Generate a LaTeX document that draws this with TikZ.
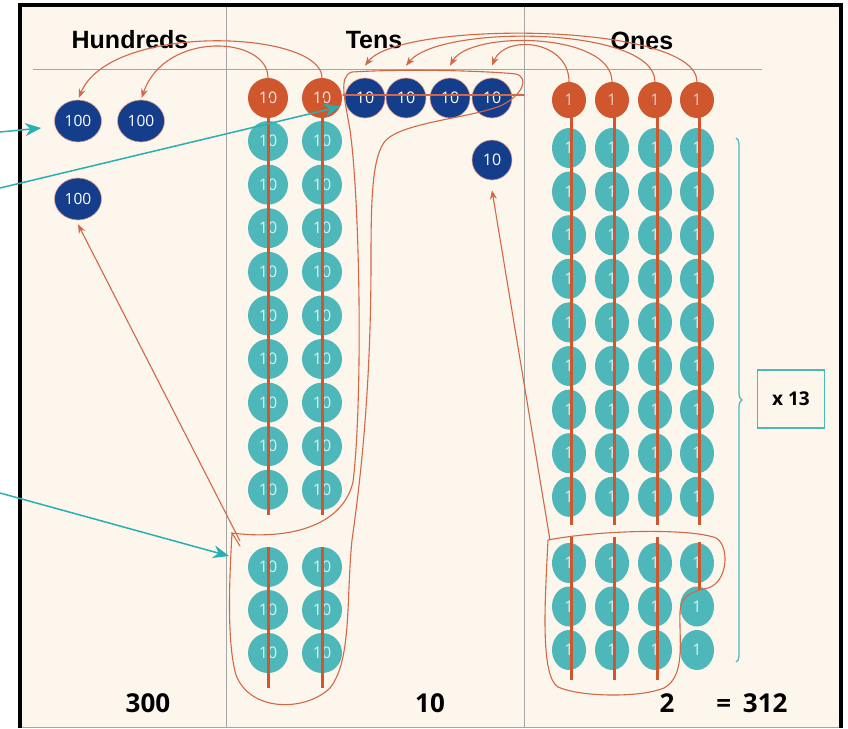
\documentclass[tikz,border=0pt]{standalone}
\usepackage{fontspec}
\setmainfont{Open Sans}
\newfontfamily\headfont{Liberation Sans}
\usetikzlibrary{positioning, shapes, arrows.meta, decorations.pathreplacing}

\definecolor{cream}{RGB}{252,246,237}
\definecolor{navy}{RGB}{20,62,140}
\definecolor{rust}{RGB}{208,86,46}
\definecolor{looprust}{RGB}{210,104,70}
\definecolor{tealdisc}{RGB}{78,183,185}
\definecolor{tealarrow}{RGB}{40,176,176}
\definecolor{rule}{RGB}{165,165,165}

\begin{document}
\begin{tikzpicture}[x=1pt, y=-1pt]
	\tikzstyle{hundred} = [ellipse, fill=navy, draw=rust!55, line width=0.6pt, minimum width=47pt, minimum height=42pt, inner sep=0pt, text=white, font=\fontsize{15.5}{15.5}\selectfont]
	\tikzstyle{bluetens} = [circle, fill=navy, draw=rust!55, line width=0.6pt, minimum size=40pt, inner sep=0pt, text=white, font=\fontsize{16}{16}\selectfont]
	\tikzstyle{redten} = [circle, fill=rust, minimum size=40pt, inner sep=0pt, text=white!85!rust, font=\fontsize{16}{16}\selectfont]
	\tikzstyle{ten} = [circle, fill=tealdisc, minimum size=40pt, inner sep=0pt, text=white!80!tealdisc, font=\fontsize{16}{16}\selectfont]
	\tikzstyle{redone} = [ellipse, fill=rust, minimum width=34pt, minimum height=36pt, inner sep=0pt, text=white!70!rust, font=\fontsize{16}{16}\selectfont]
	\tikzstyle{one} = [ellipse, fill=tealdisc, minimum width=34pt, minimum height=40pt, inner sep=0pt, text=white!80!tealdisc, font=\fontsize{16}{16}\selectfont]
	\tikzstyle{strike} = [rust, line width=3pt]
	\tikzstyle{loop} = [looprust, line width=1.1pt, line cap=round]
	\tikzstyle{swap} = [looprust, line width=1.1pt, ->, >={Stealth[length=9pt, width=7pt]}]
	\tikzstyle{pointer} = [tealarrow, line width=1.5pt, ->, >={Stealth[length=16pt, width=13pt]}]
	\tikzstyle{colhead} = [font=\headfont\bfseries\fontsize{25}{25}\selectfont]
	\tikzstyle{total} = [font=\bfseries\fontsize{26}{26}\selectfont]
	\tikzstyle{timesbox} = [rectangle, draw=tealdisc, line width=1.2pt, fill=cream, minimum width=67pt, minimum height=58pt, font=\bfseries\fontsize{19}{19}\selectfont]

	\useasboundingbox (0,0) rectangle (848,728);
	\fill [cream] (20,5) rectangle (841,728);
	\draw [rule, line width=1pt] (226,5) -- (226,728);
	\draw [rule, line width=1pt] (524,5) -- (524,728);
	\draw [rule, line width=1pt] (33,69) -- (762,69);
	\draw [rule, line width=1pt] (20,727) -- (841,727);
	\draw [black, line width=3.5pt] (20,728) -- (20,5) -- (841,5) -- (841,728);

	\node [colhead] (hundhead) at (130,40) {Hundreds};
	\node [colhead] (tenhead) at (374,40) {Tens};
	\node [colhead] (onehead) at (642,41) {Ones};

	% hundreds
	\node [hundred] (hund1) at (78,121) {100};
	\node [hundred] (hund2) at (141,121) {100};
	\node [hundred] (hund3) at (78,199) {100};

	% tens
	\node [redten] (oten1) at (268,98) {10};
	\node [redten] (oten2) at (322,98) {10};
	\foreach \x [count=\i] in {365,406,450,492}
		\node [bluetens] (bten\i) at (\x,98) {10};
	\node [bluetens] (bten5) at (492,160) {10};
	\foreach \r in {0,...,8} {
		\node [ten] (ta\r) at (268,141+43.6*\r) {10};
		\node [ten] (tb\r) at (322,141+43.6*\r) {10};
	}
	\foreach \r in {0,1,2} {
		\node [ten] (ba\r) at (268,567+43*\r) {10};
		\node [ten] (bb\r) at (322,567+43*\r) {10};
	}

	% ones
	\foreach \x [count=\c] in {569,612,655,697} {
		\node [redone] (one\c) at (\x,100) {1};
		\foreach \r in {0,...,8}
			\node [one] (u\c-\r) at (\x,148+43.6*\r) {1};
		\foreach \r in {0,1,2}
			\node [one] (v\c-\r) at (\x,563+43.5*\r) {1};
	}

	% crossing out
	\draw [strike] (oten1.center) -- ([yshift=-25pt]ta8.center);
	\draw [strike] (oten2.center) -- ([yshift=-25pt]tb8.center);
	\draw [strike] ([yshift=20pt]ba0.center) -- ([yshift=-35pt]ba2.center);
	\draw [strike] ([yshift=20pt]bb0.center) -- ([yshift=-35pt]bb2.center);
	\foreach \c in {1,2,3,4}
		\draw [strike] ([xshift=2pt]one\c.center) -- ([xshift=2pt, yshift=-28pt]u\c-8.center);
	\foreach \c in {1,2,3}
		\draw [strike] ([xshift=2pt, yshift=26pt]v\c-0.center) -- ([xshift=2pt, yshift=-30pt]v\c-2.center);
	\draw [strike] ([xshift=2pt, yshift=21pt]v4-0.center) -- ([xshift=2pt, yshift=-27pt]v4-0.center);
	\draw [loop] ([xshift=-22pt, yshift=3pt]bten1.center) -- ([xshift=32pt, yshift=3pt]bten4.center);

	% rings round the groups
	\draw [loop] (240,546) -- (232,533) .. controls (285,540) and (342,528) .. (353,482)
		.. controls (363,400) and (360,200) .. (350,130)
		.. controls (345,100) and (338,76) .. (352,72)
		.. controls (420,68) and (500,72) .. (516,74)
		.. controls (530,78) and (522,96) .. (500,106)
		.. controls (470,118) and (405,122) .. (386,140)
		.. controls (372,155) and (371,200) .. (371,260)
		.. controls (371,380) and (362,470) .. (352,540)
		.. controls (346,600) and (352,660) .. (330,688)
		.. controls (305,712) and (250,712) .. (236,675)
		.. controls (226,640) and (230,570) .. (232,533);
	\draw [loop] (548,540) .. controls (600,530) and (690,528) .. (716,538)
		.. controls (730,546) and (728,582) .. (708,588)
		.. controls (690,592) and (681,596) .. (680,612)
		.. controls (679,640) and (686,676) .. (664,688)
		.. controls (640,698) and (580,697) .. (558,687)
		.. controls (540,676) and (545,600) .. (548,540);

	% exchanges
	\draw [swap, shorten >=2pt] (oten2.north) .. controls (322,30) and (110,22) .. (hund1.north);
	\draw [swap, shorten >=2pt] (oten1.north) .. controls (268,36) and (165,30) .. (hund2.north);
	\draw [swap] (one1.north) .. controls (569,40) and (505,34) .. ([yshift=12pt]bten4.north);
	\draw [swap] (one2.north) .. controls (612,32) and (470,30) .. ([yshift=12pt]bten3.north);
	\draw [swap] (one3.north) .. controls (655,26) and (440,24) .. ([yshift=12pt]bten2.north);
	\draw [swap] (one4.north) .. controls (697,22) and (400,20) .. ([yshift=12pt]bten1.north);
	\coordinate (tensgrp) at (240,541);
	\coordinate (onesgrp) at (550,540);
	\draw [swap] (tensgrp) -- ([yshift=-4pt]hund3.south);
	\draw [swap] (onesgrp) -- ([yshift=-10pt]bten5.south);

	% pointers from the left
	\coordinate (srcA) at (0,132);
	\coordinate (srcB) at (0,188);
	\coordinate (srcC) at (0,493);
	\coordinate (loopL) at (229,556);
	\draw [pointer] (srcA) -- ([xshift=-13pt, yshift=-7pt]hund1.west);
	\draw [pointer] (srcB) -- (oten2.-25);
	\draw [pointer] (srcC) -- (loopL);

	% thirteen rows
	\draw [tealdisc, line width=1.2pt, decorate, decoration={brace, amplitude=6pt}] (736,138) -- (736,662);
	\node [timesbox] (times) at (791,399) {x 13};

	\node [total] (sumh) at (148,703) {300};
	\node [total] (sumt) at (430,703) {10};
	\node [total] (sumo) at (667,703) {2};
	\node [total] (sumall) at (752,703) {=\hspace{0.45em}312};
\end{tikzpicture}
\end{document}
